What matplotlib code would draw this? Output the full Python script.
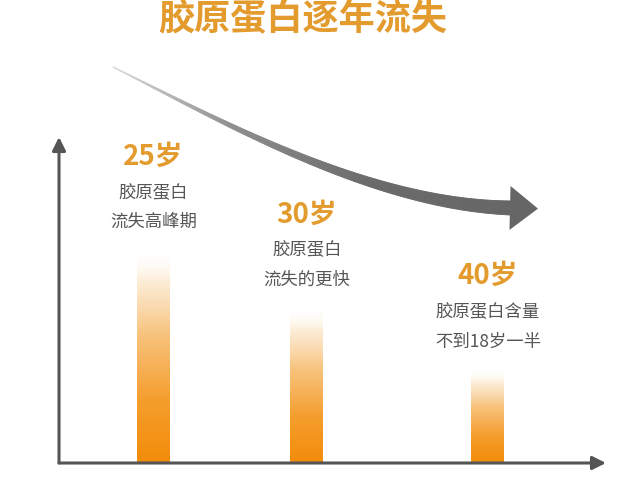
import numpy as np
import matplotlib
matplotlib.use("Agg")
import matplotlib.pyplot as plt
from matplotlib.colors import LinearSegmentedColormap
from matplotlib.collections import PolyCollection

plt.rcParams["font.family"] = ["Noto Sans CJK SC", "DejaVu Sans"]

# Data
title = "胶原蛋白逐年流失"
age_labels = ["25岁", "30岁", "40岁"]
desc_line1 = ["胶原蛋白", "胶原蛋白", "胶原蛋白含量"]
desc_line2 = ["流失高峰期", "流失的更快", "不到18岁一半"]
collagen_level = [100, 73, 44]

# layout
bar_pos = [1.73, 4.53, 7.84]
bar_width = 0.6
orange = "#E39B2E"
axis_gray = "#555555"
text_gray = "#555555"

fig = plt.figure(figsize=(6.4, 4.8), dpi=100)

# decoration layer in pixel coordinates (title, curved arrow)
deco = fig.add_axes([0, 0, 1, 1])
deco.set_xlim(0, 640)
deco.set_ylim(480, 0)
deco.axis("off")

deco.text(303, 19, title, ha="center", va="center", fontsize=26,
          fontweight="bold", color=orange)

# curved arrow: cubic bezier with growing width and darkening colour
P = np.array([[113, 67], [220, 120], [370, 205], [512, 208]], dtype=float)
t = np.linspace(0, 1, 200)
pts = ((1 - t)[:, None] ** 3 * P[0] + 3 * ((1 - t) ** 2 * t)[:, None] * P[1]
       + 3 * ((1 - t) * t ** 2)[:, None] * P[2] + (t ** 3)[:, None] * P[3])
d = np.gradient(pts, axis=0)
d /= np.linalg.norm(d, axis=1)[:, None]
nrm = np.stack([-d[:, 1], d[:, 0]], axis=1)
half_w = (0.6 + 13.5 * t ** 1.2) / 2
upper = pts + nrm * half_w[:, None]
lower = pts - nrm * half_w[:, None]
quads = []
for i in range(len(t) - 1):
    quads.append([upper[i], upper[i + 1], lower[i + 1], lower[i]])
gray_cmap = LinearSegmentedColormap.from_list("g", ["#dcdcdc", "#8e8e8e", "#6a6a6a", "#666666"])
cols = gray_cmap(t[:-1])
pc = PolyCollection(quads, facecolors=cols, edgecolors=cols, linewidths=0.6)
deco.add_collection(pc)
tip_dir = d[-1]
tip_n = nrm[-1]
base = pts[-1] - tip_dir * 2
head = np.array([base + tip_n * 22, base + tip_dir * 28, base - tip_n * 22])
deco.fill(head[:, 0], head[:, 1], color="#666666", lw=0)

# main chart
ax = fig.add_axes([59 / 640, 17 / 480, 547 / 640, 326 / 480])
ax.set_xlim(0, 10)
ax.set_ylim(0, 153)
ax.patch.set_alpha(0)
for s in ax.spines.values():
    s.set_visible(False)
ax.set_xticks([])
ax.set_yticks([])

arrow_kw = dict(arrowstyle="-|>", color=axis_gray, lw=2.2, mutation_scale=20,
                shrinkA=0, shrinkB=0)
ax.annotate("", xy=(0, 1), xytext=(0, 0), xycoords="axes fraction",
            textcoords="axes fraction", arrowprops=arrow_kw)
ax.annotate("", xy=(1, 0), xytext=(0, 0), xycoords="axes fraction",
            textcoords="axes fraction", arrowprops=arrow_kw)

bar_cmap = LinearSegmentedColormap.from_list(
    "fade",
    [(0.0, (0.95, 0.55, 0.04, 1.0)),
     (0.3, (0.96, 0.62, 0.18, 1.0)),
     (0.6, (0.97, 0.75, 0.46, 0.95)),
     (0.85, (0.99, 0.91, 0.80, 0.8)),
     (1.0, (1.0, 1.0, 1.0, 0.0))])
grad = np.linspace(0, 1, 256)[:, None]

bars = ax.bar(bar_pos, collagen_level, width=bar_width, color="none", lw=0, zorder=2)
for b, h in zip(bars, collagen_level):
    x0 = b.get_x()
    im = ax.imshow(grad, cmap=bar_cmap, aspect="auto", origin="lower",
                   extent=[x0, x0 + b.get_width(), 0, h], zorder=2)
    im.set_clip_path(b)

for x, h, age, l1, l2 in zip(bar_pos, collagen_level, age_labels, desc_line1, desc_line2):
    ax.annotate(age, xy=(x, h), xytext=(0, 67), textcoords="offset points",
                ha="center", va="center", fontsize=20, fontweight="bold", color=orange)
    ax.annotate(l1, xy=(x, h), xytext=(0, 41), textcoords="offset points",
                ha="center", va="center", fontsize=12.5, color=text_gray)
    ax.annotate(l2, xy=(x, h), xytext=(0, 20), textcoords="offset points",
                ha="center", va="center", fontsize=12.5, color=text_gray)

ax.set_xlim(0, 10)
ax.set_ylim(0, 153)

fig.savefig("out.png", dpi=100)
